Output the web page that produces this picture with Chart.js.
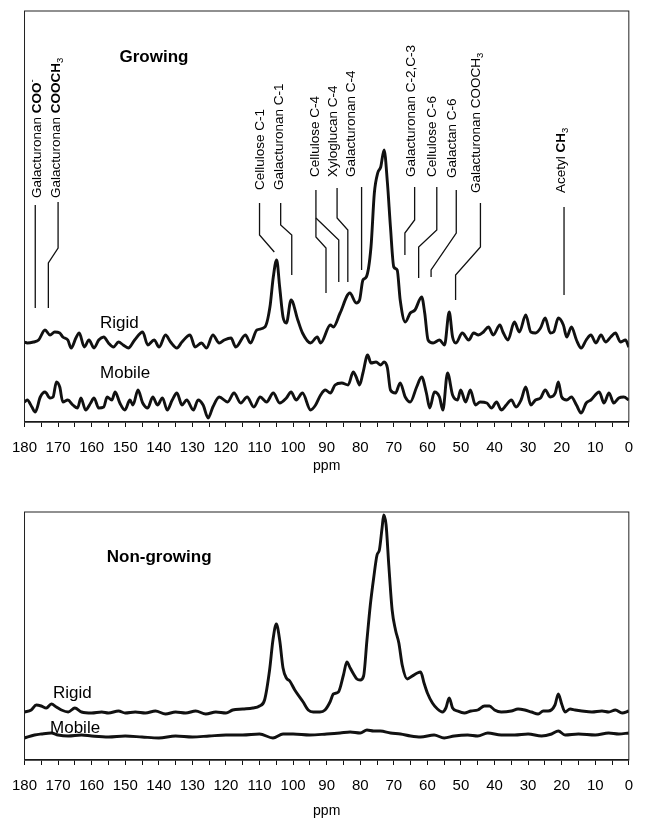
<!DOCTYPE html>
<html>
<head>
<meta charset="utf-8">
<script src="https://cdn.jsdelivr.net/npm/chart.js@4.4.1/dist/chart.umd.min.js"></script>
<style>
  html, body { margin: 0; padding: 0; background: #fff; }
  #wrap { position: relative; width: 645px; height: 818px; overflow: hidden; }
  .panel { position: absolute; left: 0; width: 645px; }
  #growing { top: 0; height: 480px; }
  #nonGrowing { top: 490px; height: 332px; }
</style>
</head>
<body>
<div id="wrap">
  <div class="panel" id="growing"><canvas id="growingChart"></canvas></div>
  <div class="panel" id="nonGrowing"><canvas id="nonGrowingChart"></canvas></div>
</div>
<script>
// chemical shift (ppm) and intensity (a.u.)
const growingRigidPpm = [
  180.0, 179.2, 177.3, 175.8, 173.9, 172.4, 171.0, 169.5, 168.6, 167.1,
  166.1, 164.7, 163.7, 162.2, 160.8, 159.3, 157.9, 156.4, 155.0, 153.5,
  152.0, 150.6, 149.1, 147.2, 144.8, 143.3, 141.4, 139.9, 138.0, 136.5,
  134.6, 133.1, 130.7, 129.2, 127.3, 125.8, 123.9, 122.0, 120.5, 118.5,
  117.1, 114.2, 112.7, 110.8, 108.4, 106.9, 105.9, 104.9, 104.0, 103.0,
  102.0, 100.6, 98.6, 97.2, 94.8, 92.8, 91.8, 88.9, 88.0, 86.0,
  83.1, 81.2, 80.2, 79.2, 78.2, 76.8, 75.8, 74.8, 73.9, 72.9,
  71.9, 71.0, 70.0, 69.0, 68.1, 66.6, 65.1, 63.7, 61.7, 60.8,
  59.8, 58.3, 56.4, 54.9, 53.5, 52.5, 51.5, 49.6, 47.7, 46.2,
  44.8, 43.3, 41.8, 40.4, 38.4, 37.5, 36.0, 34.1, 32.6, 30.7,
  29.2, 27.8, 26.3, 24.9, 23.4, 22.4, 21.0, 19.5, 18.5, 17.1,
  15.6, 14.2, 12.7, 11.3, 9.8, 8.3, 6.9, 5.4, 4.0, 2.5,
  1.0, 0.0
]
const growingRigid = [
  80, 79, 80, 82, 92, 87, 90, 89, 85, 82,
  74, 84, 89, 75, 82, 74, 82, 85, 79, 75,
  80, 77, 74, 82, 90, 77, 82, 75, 87, 80,
  74, 80, 87, 75, 79, 74, 87, 79, 82, 84,
  75, 87, 79, 92, 95, 115, 145, 162, 135, 105,
  99, 122, 102, 89, 79, 85, 79, 97, 95, 109,
  129, 119, 122, 142, 145, 175, 229, 249, 255, 272,
  239, 195, 155, 152, 122, 100, 109, 112, 125, 109,
  82, 79, 82, 77, 110, 85, 79, 89, 82, 89,
  87, 90, 95, 87, 97, 90, 82, 100, 90, 107,
  90, 89, 94, 104, 89, 90, 104, 97, 85, 95,
  82, 74, 82, 87, 79, 87, 80, 85, 89, 80,
  82, 75
]

const growingMobilePpm = [
  180.0, 179.2, 177.8, 176.8, 175.3, 173.9, 172.4, 171.5, 170.5, 169.5,
  168.6, 167.1, 165.6, 164.2, 163.2, 161.8, 160.3, 159.3, 157.9, 156.4,
  155.4, 154.0, 153.0, 151.6, 150.1, 148.6, 147.7, 146.2, 144.8, 143.3,
  141.8, 140.4, 138.9, 137.5, 136.0, 134.6, 133.1, 131.7, 129.7, 128.3,
  126.8, 125.3, 123.9, 122.0, 119.5, 117.6, 115.6, 113.7, 111.7, 109.8,
  107.9, 105.9, 104.0, 102.0, 100.6, 99.1, 97.2, 94.8, 93.3, 91.8,
  90.4, 88.9, 87.5, 85.5, 83.6, 82.1, 81.2, 80.2, 79.2, 77.8,
  76.8, 75.3, 73.9, 72.9, 71.9, 71.0, 69.5, 68.1, 66.6, 65.1,
  63.2, 61.7, 60.3, 59.3, 57.9, 56.4, 55.4, 54.0, 52.5, 51.0,
  50.1, 48.6, 47.2, 45.7, 44.3, 42.3, 40.9, 39.4, 38.0, 36.5,
  35.0, 33.6, 32.1, 30.7, 29.2, 27.8, 26.3, 24.9, 23.4, 21.9,
  21.0, 20.0, 18.5, 17.1, 15.6, 14.2, 12.7, 11.3, 8.8, 7.4,
  5.9, 4.5, 3.0, 1.5, 0.0
]
const growingMobile = [
  20, 22, 15, 10, 25, 30, 24, 25, 40, 35,
  20, 22, 17, 14, 24, 12, 19, 24, 14, 15,
  25, 22, 30, 19, 12, 22, 17, 32, 19, 14,
  25, 17, 24, 12, 22, 29, 17, 22, 12, 22,
  17, 4, 15, 25, 20, 29, 19, 25, 15, 25,
  20, 29, 19, 24, 30, 22, 29, 12, 17, 27,
  32, 29, 37, 39, 37, 50, 45, 37, 49, 67,
  59, 60, 57, 60, 54, 32, 29, 39, 25, 20,
  35, 45, 29, 14, 30, 25, 12, 49, 27, 22,
  32, 20, 32, 17, 20, 19, 14, 20, 12, 17,
  22, 15, 22, 35, 17, 22, 24, 32, 25, 29,
  40, 25, 22, 25, 17, 9, 19, 22, 30, 19,
  29, 19, 24, 25, 22
]

const nonGrowingRigidPpm = [
  180, 178, 176.5, 175, 173.5, 172, 170.5, 169, 167, 165,
  163, 160, 157, 155, 152, 150, 147, 144, 141, 138,
  135, 132, 129, 126, 123, 120, 118, 115, 112, 110,
  108.5, 107, 106, 105, 104, 103, 102, 101, 99.5, 97,
  95.5, 94, 92, 90.5, 89, 88, 86.5, 85, 84, 83,
  82, 81, 80, 79, 78, 77, 76, 75, 74.3, 73.5,
  73, 72.3, 71.5, 70.5, 69.5, 68.5, 67.5, 66, 64.5, 63,
  62, 61, 60, 58.5, 57, 55.5, 54.5, 53.5, 52.5, 51,
  49, 47, 45, 43, 41.5, 40, 38, 35, 33, 31,
  29, 27, 25.5, 24, 22, 21, 20, 19, 17.5, 16,
  14, 11, 8, 6, 4, 2, 0
]
const nonGrowingRigid = [
  48, 50, 55, 54, 52, 56, 53, 50, 48, 52,
  48, 47, 48, 47, 49, 47, 48, 47, 49, 46,
  48, 47, 49, 46, 48, 47, 50, 51, 52, 54,
  60, 90, 120, 136, 120, 92, 82, 79, 70, 58,
  50, 48, 48, 50, 58, 66, 68, 85, 98, 92,
  86, 81, 80, 84, 120, 155, 182, 205, 210, 232,
  245, 235, 195, 150, 130, 117, 95, 81, 84, 87,
  88, 77, 67, 57, 51, 48, 52, 62, 52, 49,
  47, 49, 50, 54, 54, 50, 48, 49, 51, 50,
  48, 46, 49, 49, 55, 66, 56, 48, 51, 50,
  49, 48, 49, 48, 50, 47, 49
]

const nonGrowingMobilePpm = [
  180, 177, 175, 172, 170, 167, 163, 160, 155, 150,
  145, 140, 135, 130, 125, 120, 115, 110, 106, 103,
  100, 95, 90, 86, 83, 80, 78, 76, 74, 71,
  68, 65, 62, 58, 55, 52, 48, 45, 42, 38,
  34, 30, 26, 23, 21, 19, 15, 10, 6, 3, 0
]
const nonGrowingMobile = [
  22, 25, 26, 27, 25, 24, 25, 24, 23, 24,
  23, 22, 24, 23, 24, 25, 25, 26, 22, 26,
  26, 25, 26, 27, 28, 27, 30, 29, 29, 27,
  26, 24, 23, 25, 22, 24, 25, 24, 27, 25,
  25, 26, 24, 26, 29, 25, 26, 25, 27, 26, 27
]

// peak assignments: label text, where the label column sits, and leader line in (ppm, intensity)
const peakNames = [
  [['Galacturonan '], ['COO', 'b'], ['-', 'sup']],
  [['Galacturonan '], ['COOCH', 'b'], ['3', 'sub']],
  [['Cellulose C-1']],
  [['Galacturonan C-1']],
  [['Cellulose C-4']],
  [['Xyloglucan C-4']],
  [['Galacturonan C-4']],
  [['Galacturonan C-2,C-3']],
  [['Cellulose C-6']],
  [['Galactan C-6']],
  [['Galacturonan COOCH'], ['3', 'sub']],
  [['Acetyl '], ['CH', 'b'], ['3', 'sub']]
]
const peakNamePpm = [176.2, 170.4, 109.7, 104.2, 93.5, 87.9, 82.6, 64.8, 58.4, 52.6, 45.3, 20.0]
const peakNameLevel = [224, 224, 232, 232, 245, 245, 245, 245, 245, 244, 229, 229]
const peakLeaders = [
  [[[176.8, 217], [176.8, 114]]],
  [[[170.0, 220], [170.0, 174], [172.9, 159], [172.9, 114]]],
  [[[110.0, 219], [110.0, 187], [105.6, 170]]],
  [[[103.7, 219], [103.7, 197], [100.4, 187], [100.4, 147]]],
  [[[93.2, 232], [93.2, 185], [90.2, 174], [90.2, 129]], [[93.2, 204], [86.4, 182], [86.4, 140]]],
  [[[86.9, 234], [86.9, 204], [83.7, 192], [83.7, 140]]],
  [[[79.6, 235], [79.6, 152]]],
  [[[63.8, 235], [63.8, 202], [66.7, 189], [66.7, 167]]],
  [[[57.2, 235], [57.2, 192], [62.6, 175], [62.6, 144]]],
  [[[51.4, 232], [51.4, 189], [58.9, 152], [58.9, 145]]],
  [[[44.2, 219], [44.2, 175], [51.6, 147], [51.6, 122]]],
  [[[19.3, 215], [19.3, 127]]]
]

const FAMILY = '"Liberation Sans", Arial, Helvetica, sans-serif'
Chart.defaults.font.family = FAMILY
Chart.defaults.color = '#000'

function points(xs, ys) {
  return xs.map((x, i) => ({ x: x, y: ys[i] }))
}

function trace(xs, ys) {
  return {
    data: points(xs, ys),
    borderColor: '#111',
    borderWidth: 2.9,
    borderJoinStyle: 'round',
    pointRadius: 0,
    cubicInterpolationMode: 'monotone',
    fill: false
  }
}

// box round the plot area
const frame = {
  id: 'frame',
  afterDatasetsDraw(chart) {
    const { ctx, chartArea: a } = chart
    ctx.save()
    ctx.strokeStyle = '#222'
    ctx.lineWidth = 1
    ctx.strokeRect(a.left, a.top, a.right - a.left, a.bottom - a.top)
    ctx.restore()
  }
}

// free text placed in data units
const chartText = {
  id: 'chartText',
  afterDraw(chart, args, opts) {
    const { ctx, scales: { x, y } } = chart
    ctx.save()
    ctx.fillStyle = '#000'
    ctx.textAlign = 'left'
    ctx.textBaseline = 'middle'
    for (const t of opts.items || []) {
      ctx.font = t.font
      ctx.fillText(t.text, x.getPixelForValue(t.ppm), y.getPixelForValue(t.level))
    }
    ctx.restore()
  }
}

// rotated peak names with their leader lines
const peakLabels = {
  id: 'peakLabels',
  afterDatasetsDraw(chart) {
    const { ctx, scales: { x, y } } = chart
    ctx.save()
    ctx.strokeStyle = '#111'
    ctx.lineWidth = 1.3
    for (const group of peakLeaders) {
      for (const path of group) {
        ctx.beginPath()
        path.forEach((p, i) => {
          const px = x.getPixelForValue(p[0])
          const py = y.getPixelForValue(p[1])
          i === 0 ? ctx.moveTo(px, py) : ctx.lineTo(px, py)
        })
        ctx.stroke()
      }
    }
    ctx.fillStyle = '#000'
    ctx.textAlign = 'left'
    ctx.textBaseline = 'middle'
    peakNames.forEach((segs, i) => {
      ctx.save()
      ctx.translate(x.getPixelForValue(peakNamePpm[i]), y.getPixelForValue(peakNameLevel[i]))
      ctx.rotate(-Math.PI / 2)
      let cx = 0
      for (const s of segs) {
        const small = s[1] === 'sub' || s[1] === 'sup'
        ctx.font = (s[1] === 'b' ? 'bold ' : '') + (small ? 9.5 : 13.5) + 'px ' + FAMILY
        const dy = s[1] === 'sub' ? 3.5 : s[1] === 'sup' ? -5 : 0
        ctx.fillText(s[0], cx, dy)
        cx += ctx.measureText(s[0]).width
      }
      ctx.restore()
    })
    ctx.restore()
  }
}

function ppmAxis(height, titleBottom) {
  return {
    type: 'linear',
    reverse: true,
    min: 0,
    max: 180,
    afterFit(scale) { scale.height = height },
    border: { display: true, color: '#111', width: 1.5 },
    grid: { display: true, drawOnChartArea: false, drawTicks: true, tickLength: 5, color: '#111', lineWidth: 1 },
    ticks: {
      stepSize: 5,
      autoSkip: false,
      maxRotation: 0,
      padding: 12,
      font: { size: 15 },
      color: '#000',
      callback: v => (v % 10 === 0 ? String(v) : '')
    },
    title: { display: true, text: 'ppm', font: { size: 14 }, padding: { top: 0, bottom: titleBottom } }
  }
}

function spectrum(el, rigid, mobile, yMax, padding, axisHeight, titleBottom, items, extra) {
  return new Chart(document.querySelector(el), {
    type: 'line',
    data: { datasets: [rigid, mobile] },
    options: {
      responsive: true,
      maintainAspectRatio: false,
      animation: false,
      events: [],
      layout: { padding: padding },
      plugins: {
        legend: { display: false },
        tooltip: { enabled: false },
        chartText: { items: items }
      },
      scales: {
        x: ppmAxis(axisHeight, titleBottom),
        y: { display: false, min: 0, max: yMax }
      }
    },
    plugins: [frame, chartText].concat(extra)
  })
}

spectrum('#growingChart',
  trace(growingRigidPpm, growingRigid),
  trace(growingMobilePpm, growingMobile),
  411,
  { left: 20, right: 8, top: 11, bottom: 4 },
  54, 1,
  [
    { text: 'Growing', ppm: 151.7, level: 365, font: 'bold 17px ' + FAMILY },
    { text: 'Rigid', ppm: 157.5, level: 99, font: '17px ' + FAMILY },
    { text: 'Mobile', ppm: 157.5, level: 49, font: '17px ' + FAMILY }
  ],
  [peakLabels]
)

spectrum('#nonGrowingChart',
  trace(nonGrowingRigidPpm, nonGrowingRigid),
  trace(nonGrowingMobilePpm, nonGrowingMobile),
  248,
  { left: 22, right: 7, top: 22, bottom: 2 },
  60, 0,
  [
    { text: 'Non-growing', ppm: 155.5, level: 203, font: 'bold 17px ' + FAMILY },
    { text: 'Rigid', ppm: 171.5, level: 67, font: '17px ' + FAMILY },
    { text: 'Mobile', ppm: 172.4, level: 32, font: '17px ' + FAMILY }
  ],
  []
)
</script>
</body>
</html>
